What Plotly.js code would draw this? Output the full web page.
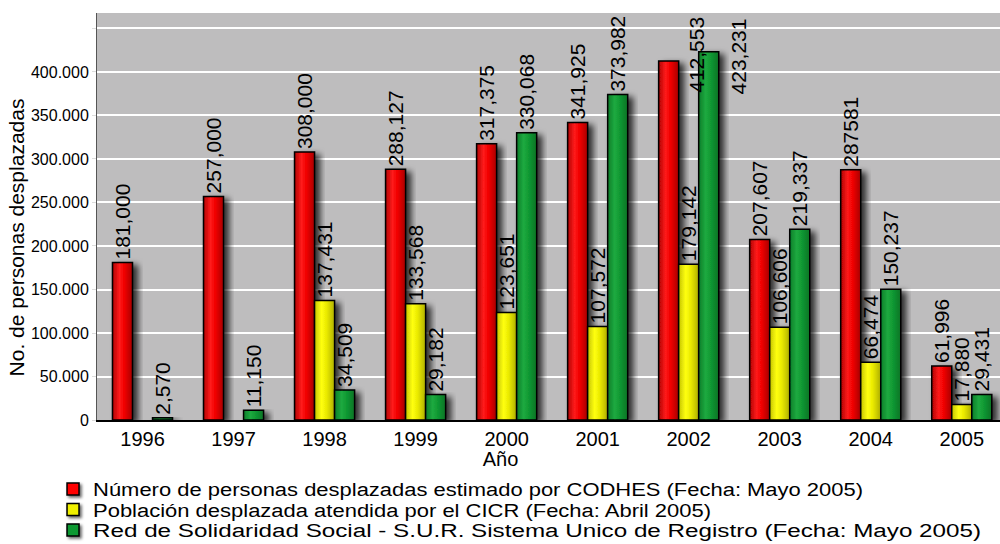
<!DOCTYPE html>
<html>
<head>
<meta charset="utf-8">
<script src="https://cdn.plot.ly/plotly-3.0.1.min.js"></script>
<style>
  html, body { margin: 0; padding: 0; background: #fff; }
  #chart { width: 1000px; height: 544px; }
  .barlayer .point path { filter: url(#barShadow); }
  .barlayer .trace:nth-of-type(1) .point path { fill: url(#gRed) !important; }
  .barlayer .trace:nth-of-type(2) .point path { fill: url(#gYel) !important; }
  .barlayer .trace:nth-of-type(3) .point path { fill: url(#gGrn) !important; }
  .legend .legendpoints path { filter: url(#legShadow); }
</style>
</head>
<body>
<svg width="0" height="0" style="position:absolute">
  <defs>
    <linearGradient id="gRed" x1="0" y1="0" x2="1" y2="0">
      <stop offset="0" stop-color="#b00000"/>
      <stop offset="0.35" stop-color="#ff1a1a"/>
      <stop offset="0.6" stop-color="#f00000"/>
      <stop offset="1" stop-color="#a80000"/>
    </linearGradient>
    <linearGradient id="gYel" x1="0" y1="0" x2="1" y2="0">
      <stop offset="0" stop-color="#c4c400"/>
      <stop offset="0.35" stop-color="#ffff10"/>
      <stop offset="0.6" stop-color="#eaea00"/>
      <stop offset="1" stop-color="#b0b000"/>
    </linearGradient>
    <linearGradient id="gGrn" x1="0" y1="0" x2="1" y2="0">
      <stop offset="0" stop-color="#0b7d2a"/>
      <stop offset="0.35" stop-color="#1eaa40"/>
      <stop offset="0.6" stop-color="#119933"/>
      <stop offset="1" stop-color="#0a7426"/>
    </linearGradient>
    <filter id="barShadow" x="-50%" y="-10%" width="200%" height="130%">
      <feDropShadow dx="5" dy="3" stdDeviation="3" flood-color="#000" flood-opacity="0.75"/>
    </filter>
    <filter id="legShadow" x="-50%" y="-50%" width="200%" height="200%">
      <feDropShadow dx="2" dy="2" stdDeviation="1.5" flood-color="#000" flood-opacity="0.6"/>
    </filter>
  </defs>
</svg>
<div id="chart"></div>
<script>
// ---- data ----
const years = ["1996","1997","1998","1999","2000","2001","2002","2003","2004","2005"];

const codhes = [181000, 257000, 308000, 288127, 317375, 341925, 412553, 207607, 287581, 61996];
const cicr   = [null, null, 137431, 133568, 123651, 107572, 179142, 106606, 66474, 17880];
const rss    = [2570, 11150, 34509, 29182, 330068, 373982, 423231, 219337, 150237, 29431];

const codhesLabels = ["181,000","257,000","308,000","288,127","317,375","341,925","412,553","207,607","287581","61,996"];
const cicrLabels   = ["","","137,431","133,568","123,651","107,572","179,142","106,606","66,474","17,880"];
const rssLabels    = ["2,570","11,150","34,509","29,182","330,068","373,982","423,231","219,337","150,237","29,431"];

const seriesNames = [
  "Número de personas desplazadas estimado por CODHES (Fecha: Mayo 2005)",
  "Población desplazada atendida por el CICR (Fecha: Abril 2005)",
  "Red de Solidaridad Social - S.U.R. Sistema Unico de Registro (Fecha: Mayo 2005)"
];

const yTickVals = [0, 50000, 100000, 150000, 200000, 250000, 300000, 350000, 400000, 450000];
const yTickText = ["0","50.000","100.000","150.000","200.000","250.000","300.000","350.000","400.000",""];

// labels that were drawn displaced in the original (year 2002, tallest bars)
const displacedYear = "2002";

// ---- build ----
const FONT = "Liberation Sans, Arial, Helvetica, sans-serif";
const idx = years.indexOf(displacedYear);

function barText(labels, hideIdx) {
  return labels.map((t, i) => (i === hideIdx ? "" : t));
}

function mk(name, y, text, color) {
  return {
    type: "bar", name: name, x: years, y: y,
    text: text, textposition: "outside", textangle: -90,
    textfont: {family: FONT, size: 21, color: "#000"},
    constraintext: "none", cliponaxis: false,
    marker: {color: color, line: {color: "#000", width: 1.5}},
    hoverinfo: "x+y"
  };
}

const data = [
  mk(seriesNames[0], codhes, barText(codhesLabels, idx), "#ff0000"),
  mk(seriesNames[1], cicr,   cicrLabels, "#f0f000"),
  mk(seriesNames[2], rss,    barText(rssLabels, idx), "#119933")
];

const annotations = [
  {x: idx, y: codhes[idx], text: codhesLabels[idx], xshift: 7, yshift: 6},
  {x: idx, y: rss[idx], text: rssLabels[idx], xshift: 50, yshift: -5}
].map(a => Object.assign({
  xref: "x", yref: "y", showarrow: false, textangle: -90,
  xanchor: "center", yanchor: "middle",
  font: {family: FONT, size: 21, color: "#000"}
}, a));

const layout = {
  width: 1000, height: 544,
  margin: {l: 97, r: 0, t: 13, b: 124, autoexpand: false},
  paper_bgcolor: "#ffffff",
  plot_bgcolor: "#bebdbe",
  barmode: "group",
  bargap: 0.34,
  bargroupgap: 0,
  font: {family: FONT, color: "#000"},
  showlegend: true,
  legend: {
    orientation: "v",
    x: -0.0487, xanchor: "left",
    y: -0.142, yanchor: "top",
    font: {family: FONT, size: 18, color: "#000"},
    bgcolor: "rgba(0,0,0,0)",
    tracegroupgap: 0,
    itemclick: false
  },
  xaxis: {
    type: "category",
    range: [-0.5, 9.42],
    showline: true, linecolor: "#000", linewidth: 2,
    ticks: "", showgrid: false, zeroline: false,
    tickfont: {family: FONT, size: 20, color: "#000"},
    title: {text: "Año", font: {family: FONT, size: 20, color: "#000"}, standoff: 0},
    automargin: false
  },
  yaxis: {
    range: [0, 467800],
    tickvals: yTickVals, ticktext: yTickText,
    showgrid: true, gridcolor: "#ffffff", gridwidth: 2,
    showline: true, linecolor: "#555", linewidth: 1,
    ticks: "outside", ticklen: 4, tickcolor: "#dddddd",
    zeroline: false,
    tickfont: {family: FONT, size: 16, color: "#000"},
    title: {text: "No. de personas desplazadas", font: {family: FONT, size: 21, color: "#000"}, standoff: 4},
    automargin: false
  },
  annotations: annotations
};

// legend rows in the original are tighter and wider than Plotly's defaults
const LEG_ROW_CENTER = 490, LEG_ROW_STEP = 20.5;
const LEG_TEXT_WIDTHS = [770, 618, 888];
// axis-title nudges to match the original placement
const X_TITLE_SHIFT = [-48, 3], Y_TITLE_SHIFT = [4, 21];

function parseT(g) {
  const m = /translate\(\s*([-\d.]+)[ ,]+([-\d.]+)/.exec(g.getAttribute("transform") || "");
  return m ? [parseFloat(m[1]), parseFloat(m[2])] : [0, 0];
}

function tuneLegend(gd) {
  const leg = gd.querySelector(".legend");
  if (!leg) return;
  leg.querySelectorAll("[clip-path]").forEach(e => e.removeAttribute("clip-path"));
  const items = Array.from(leg.querySelectorAll(".traces"));
  if (!items.length) return;
  const t0 = parseT(items[0]);
  const fb = items[0].querySelector(".legendtext").getBoundingClientRect();
  const delta = LEG_ROW_CENTER - (fb.top + fb.height / 2);
  items.forEach((g, i) => {
    const t = parseT(g);
    g.setAttribute("transform", "translate(" + t[0] + "," + (t0[1] + delta + i * LEG_ROW_STEP) + ")");
    const txt = g.querySelector(".legendtext");
    if (txt && LEG_TEXT_WIDTHS[i]) {
      txt.setAttribute("textLength", LEG_TEXT_WIDTHS[i]);
      txt.setAttribute("lengthAdjust", "spacingAndGlyphs");
    }
  });
}

function nudge(gd, sel, d) {
  const el = gd.querySelector(sel);
  if (el) el.setAttribute("transform", "translate(" + d[0] + "," + d[1] + ")");
}

Plotly.newPlot("chart", data, layout, {displayModeBar: false, responsive: false}).then(gd => {
  tuneLegend(gd);
  nudge(gd, ".g-xtitle", X_TITLE_SHIFT);
  nudge(gd, ".g-ytitle", Y_TITLE_SHIFT);
});
</script>
</body>
</html>
